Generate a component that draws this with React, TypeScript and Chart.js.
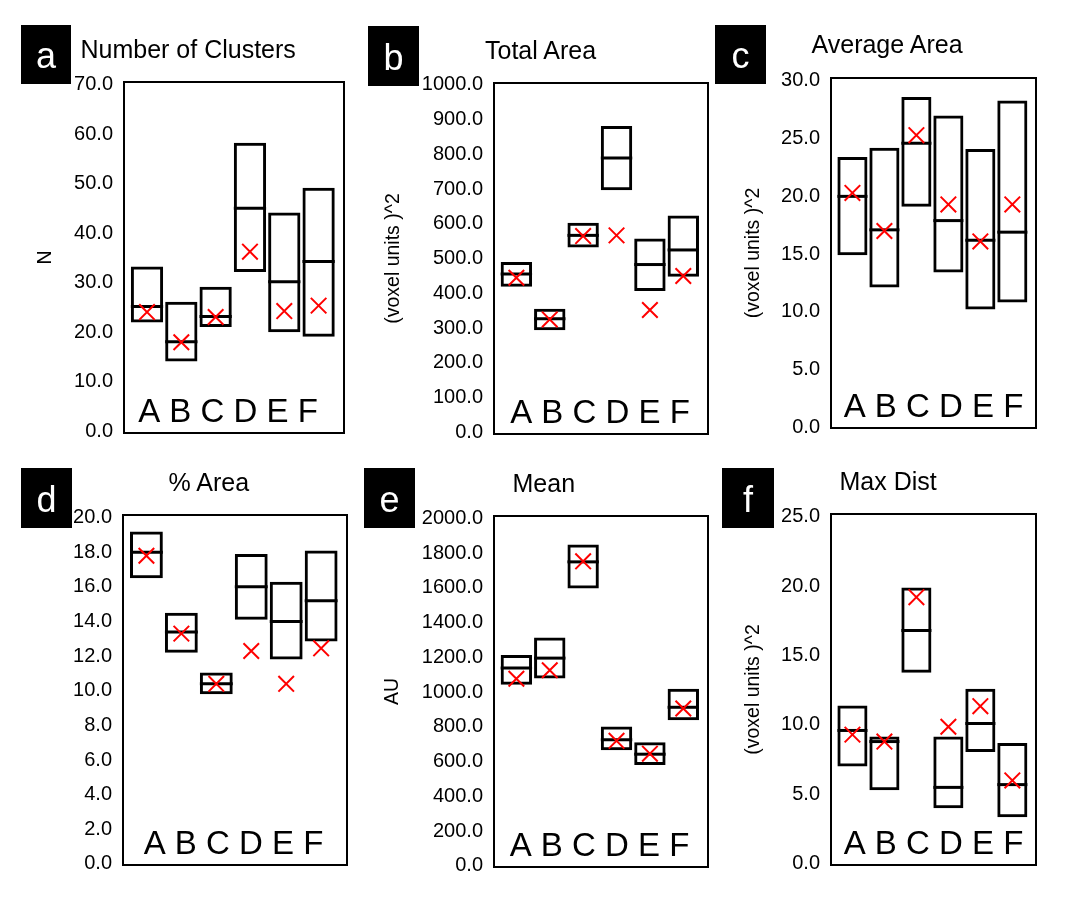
import React, { useEffect, useRef } from 'react';
import { Chart, registerables } from 'chart.js';

Chart.register(...registerables);

const FONT = "'Liberation Sans', Arial, Helvetica, sans-serif";

// ---------- data ----------
const categories = ['A', 'B', 'C', 'D', 'E', 'F'];

// a: Number of Clusters
const aLow = [22.0, 14.1, 21.1, 32.2, 20.0, 19.1];
const aHigh = [33.3, 26.2, 29.2, 58.3, 44.2, 49.2];
const aMedian = [25.2, 18.1, 23.2, 45.1, 30.2, 34.3];
const aMean = [24.1, 18.0, 23.1, 36.3, 24.3, 25.4];
const aTicks = [0, 10, 20, 30, 40, 50, 60, 70];

// b: Total Area
const bLow = [419, 294, 532, 697, 407, 448];
const bHigh = [490, 356, 603, 882, 558, 624];
const bMedian = [456, 327, 567, 790, 483, 525];
const bMean = [445, 325, 565, 567, 352, 450];
const bTicks = [0, 100, 200, 300, 400, 500, 600, 700, 800, 900, 1000];

// c: Average Area
const cLow = [14.9, 12.1, 19.1, 13.4, 10.2, 10.8];
const cHigh = [23.4, 24.2, 28.6, 27.0, 24.1, 28.3];
const cMedian = [20.0, 17.1, 24.6, 17.9, 16.2, 16.9];
const cMean = [20.3, 17.0, 25.3, 19.3, 16.1, 19.3];
const cTicks = [0, 5, 10, 15, 20, 25, 30];

// d: % Area
const dLow = [16.5, 12.2, 9.8, 14.1, 11.8, 12.85];
const dHigh = [19.2, 14.5, 11.05, 17.9, 16.3, 18.1];
const dMedian = [18.0, 13.4, 10.4, 16.0, 14.0, 15.2];
const dMean = [17.8, 13.3, 10.4, 12.3, 10.4, 12.45];
const dTicks = [0, 2, 4, 6, 8, 10, 12, 14, 16, 18, 20];

// e: Mean
const eLow = [1041, 1078, 1595, 664, 580, 837];
const eHigh = [1213, 1313, 1849, 801, 711, 1018];
const eMedian = [1138, 1195, 1749, 725, 642, 912];
const eMean = [1076, 1125, 1752, 719, 645, 905];
const eTicks = [0, 200, 400, 600, 800, 1000, 1200, 1400, 1600, 1800, 2000];

// f: Max Dist
const fLow = [7.0, 5.3, 13.75, 4.0, 8.05, 3.35];
const fHigh = [11.4, 9.16, 19.9, 9.16, 12.6, 8.7];
const fMedian = [9.6, 8.8, 16.8, 5.5, 10.1, 5.7];
const fMean = [9.3, 8.8, 19.2, 9.87, 11.35, 6.0];
const fTicks = [0, 5, 10, 15, 20, 25];

const VOXEL = '(voxel units )^2';

// ---------- layout (positions / styles) ----------
type Spec = {
  badge: string;
  title: string;
  yTitle: string;
  low: number[];
  high: number[];
  median: number[];
  mean: number[];
  ticks: number[];
  yMin: number;
  yMax: number;
  frame: [number, number, number, number]; // L T R B
  origin: [number, number];
  titlePos: [number, number]; // left, baseline
  yTitlePad: number;
  badgeBox: [number, number, number, number];
  labelShift: number;
};

const PANELS: Spec[] = [
  {
    badge: 'a', title: 'Number of Clusters', yTitle: 'N',
    low: aLow, high: aHigh, median: aMedian, mean: aMean, ticks: aTicks,
    yMin: -0.34, yMax: 70.59,
    frame: [124, 82, 344, 440], origin: [0, 0],
    titlePos: [80.5, 58.3], yTitlePad: 33.5, badgeBox: [21, 25, 50, 59], labelShift: -6,
  },
  {
    badge: 'b', title: 'Total Area', yTitle: VOXEL,
    low: bLow, high: bHigh, median: bMedian, mean: bMean, ticks: bTicks,
    yMin: -4.8, yMax: 1005.6,
    frame: [494, 83, 708, 441], origin: [360, 0],
    titlePos: [485, 59.3], yTitlePad: 22, badgeBox: [368, 26, 51, 60], labelShift: -1,
  },
  {
    badge: 'c', title: 'Average Area', yTitle: VOXEL,
    low: cLow, high: cHigh, median: cMedian, mean: cMean, ticks: cTicks,
    yMin: -0.06, yMax: 30.25,
    frame: [831, 78, 1036, 435], origin: [715, 0],
    titlePos: [811.5, 53.3], yTitlePad: 27, badgeBox: [715, 25, 51, 59], labelShift: 0,
  },
  {
    badge: 'd', title: '% Area', yTitle: '',
    low: dLow, high: dHigh, median: dMedian, mean: dMean, ticks: dTicks,
    yMin: -0.06, yMax: 20.15,
    frame: [123, 515, 347, 872], origin: [0, 455],
    titlePos: [168.5, 490.7], yTitlePad: 20, badgeBox: [21, 468, 51, 60], labelShift: -1.5,
  },
  {
    badge: 'e', title: 'Mean', yTitle: 'AU',
    low: eLow, high: eHigh, median: eMedian, mean: eMean, ticks: eTicks,
    yMin: -7.3, yMax: 2013,
    frame: [494, 516, 708, 874], origin: [360, 455],
    titlePos: [512.5, 492.3], yTitlePad: 21, badgeBox: [364, 468, 51, 60], labelShift: -1.5,
  },
  {
    badge: 'f', title: 'Max Dist', yTitle: VOXEL,
    low: fLow, high: fHigh, median: fMedian, mean: fMean, ticks: fTicks,
    yMin: -0.09, yMax: 25.19,
    frame: [831, 514, 1036, 872], origin: [715, 455],
    titlePos: [839.5, 490], yTitlePad: 27, badgeBox: [722, 468, 52, 60], labelShift: 0,
  },
];

const X_MIN = -0.67;
const X_MAX = 5.74;
const BAR_PCT = 0.94;
const PAD_R = 6;
const PAD_B = 16;

const frameAndLabels = {
  id: 'frameAndLabels',
  beforeDatasetsDraw(chart: any, _args: any, opts: any) {
    const { ctx, chartArea } = chart;
    const { left, top, right, bottom } = chartArea;
    ctx.save();
    ctx.strokeStyle = '#000';
    ctx.lineWidth = 2;
    ctx.strokeRect(left, top, right - left, bottom - top);
    ctx.fillStyle = '#000';
    ctx.font = `33px ${FONT}`;
    ctx.textAlign = 'center';
    ctx.textBaseline = 'alphabetic';
    const cx = (left + right) / 2 + (opts.shift || 0);
    ctx.fillText(categories.join(' '), cx, bottom - 11);
    ctx.restore();
  },
};

function Panel({ spec }: { spec: Spec }) {
  const ref = useRef<HTMLCanvasElement>(null);
  const [L, T, R, B] = spec.frame;
  const [ox, oy] = spec.origin;
  const w = R - ox + PAD_R;
  const h = B - oy + PAD_B;
  const axisW = L - ox;

  useEffect(() => {
    if (!ref.current) return;
    const halfBar = (ctx: any) => {
      const s = ctx.chart.scales.x;
      if (!s) return 15;
      return ((s.getPixelForValue(1) - s.getPixelForValue(0)) * BAR_PCT) / 2;
    };
    const chart = new Chart(ref.current, {
      type: 'bar',
      data: {
        datasets: [
          {
            type: 'scatter',
            label: 'mean',
            data: spec.mean.map((v, i) => ({ x: i, y: v })),
            pointStyle: 'crossRot',
            pointRadius: 11,
            pointBorderWidth: 2,
            pointBorderColor: '#ff0000',
            pointBackgroundColor: '#ff0000',
            order: 0,
          } as any,
          {
            type: 'scatter',
            label: 'median',
            data: spec.median.map((v, i) => ({ x: i, y: v })),
            pointStyle: 'line',
            pointRadius: halfBar,
            pointBorderWidth: 3,
            pointBorderColor: '#000',
            order: 1,
          } as any,
          {
            type: 'bar',
            label: 'range',
            data: spec.low.map((v, i) => ({ x: i, y: [v, spec.high[i]] })),
            backgroundColor: 'rgba(0,0,0,0)',
            borderColor: '#000',
            borderWidth: 3,
            borderSkipped: false,
            barPercentage: BAR_PCT,
            categoryPercentage: 1,
            order: 2,
          } as any,
        ],
      },
      options: {
        animation: false,
        responsive: false,
        events: [],
        layout: {
          autoPadding: false,
          padding: { left: 0, top: T - oy, right: PAD_R, bottom: PAD_B },
        },
        plugins: {
          legend: { display: false },
          tooltip: { enabled: false },
          title: { display: false },
          frameAndLabels: { shift: spec.labelShift },
        } as any,
        scales: {
          x: {
            type: 'linear',
            min: X_MIN,
            max: X_MAX,
            display: false,
            offset: false,
            grid: { display: false, drawTicks: false },
            afterBuildTicks: (axis: any) => {
              axis.ticks = categories.map((_, i) => ({ value: i }));
            },
          },
          y: {
            type: 'linear',
            min: spec.yMin,
            max: spec.yMax,
            grid: { display: false, drawTicks: false },
            border: { display: false },
            afterBuildTicks: (axis: any) => {
              axis.ticks = spec.ticks.map((v) => ({ value: v }));
            },
            afterFit: (scale: any) => {
              scale.width = axisW;
            },
            ticks: {
              autoSkip: false,
              padding: 11,
              color: '#000',
              font: { family: FONT, size: 20 },
              callback: (v: any) => Number(v).toFixed(1),
            },
            title: {
              display: spec.yTitle !== '',
              text: spec.yTitle,
              color: '#000',
              font: { family: FONT, size: 19.5 },
              padding: { top: spec.yTitlePad, bottom: 0 },
            },
          },
        },
      } as any,
      plugins: [frameAndLabels],
    });
    return () => chart.destroy();
  }, []);

  const [bx, by, bw, bh] = spec.badgeBox;
  const [tl, tb] = spec.titlePos;

  return (
    <>
      <canvas
        ref={ref}
        width={w}
        height={h}
        style={{ position: 'absolute', left: ox, top: oy, width: w, height: h }}
      />
      <div
        style={{
          position: 'absolute', left: bx, top: by, width: bw, height: bh,
          background: '#000',
        }}
      >
        <span
          style={{
            position: 'absolute', left: 0, width: bw, textAlign: 'center',
            top: bh - 16 - 30.5, fontFamily: FONT, fontSize: 36, lineHeight: '36px',
            color: '#fff',
          }}
        >
          {spec.badge}
        </span>
      </div>
      <div
        style={{
          position: 'absolute', left: tl, top: tb - 21.2, fontFamily: FONT,
          fontSize: 25, lineHeight: '25px', color: '#000', whiteSpace: 'nowrap',
        }}
      >
        {spec.title}
      </div>
    </>
  );
}

export default function App() {
  return (
    <div
      style={{
        position: 'absolute', left: 0, top: 0, width: 1076, height: 912,
        background: '#fff', overflow: 'hidden',
      }}
    >
      {PANELS.map((p) => (
        <Panel key={p.badge} spec={p} />
      ))}
    </div>
  );
}
